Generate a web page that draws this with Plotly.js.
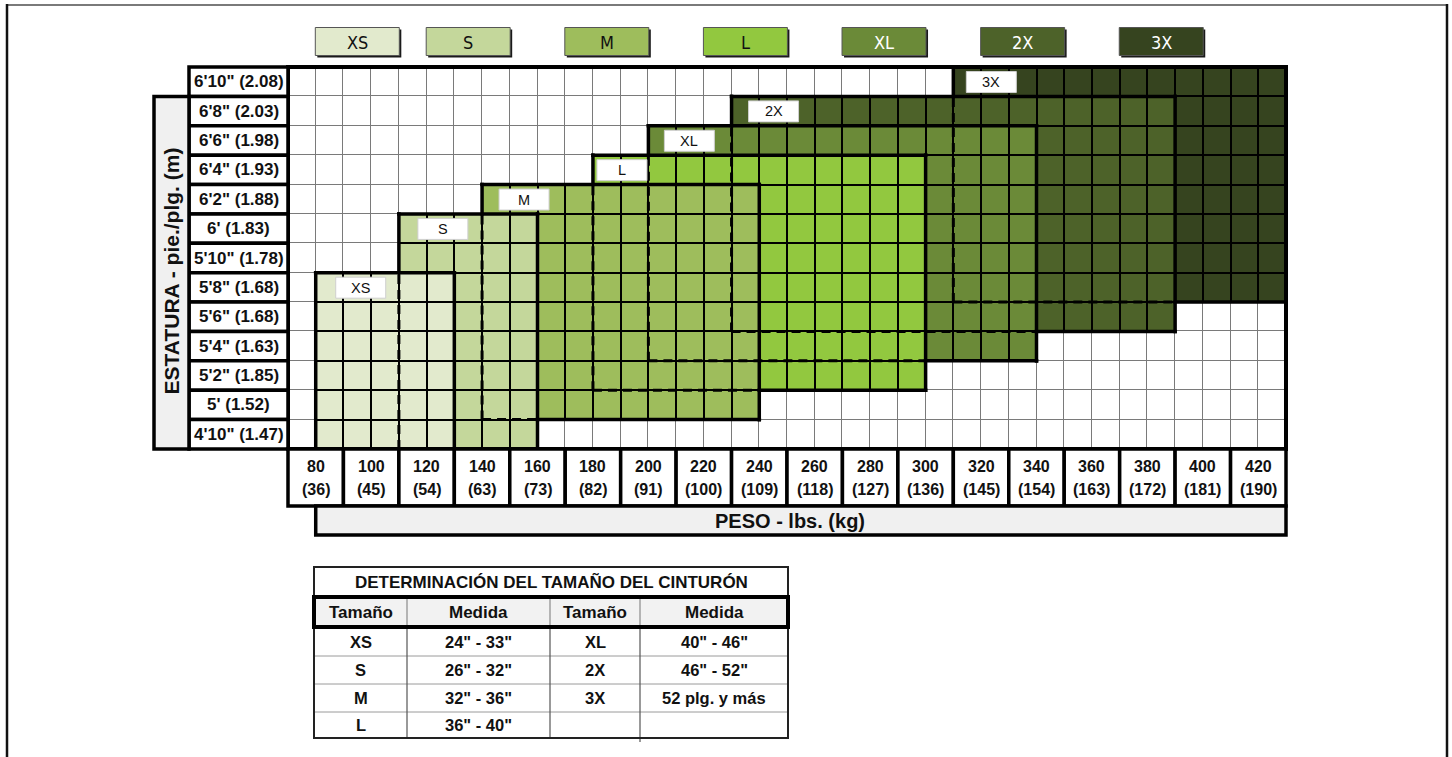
<!DOCTYPE html>
<html><head><meta charset="utf-8">
<script src="https://cdn.plot.ly/plotly-3.0.1.min.js"></script>
<style>html,body{margin:0;padding:0;background:#fff;}#chart{width:1452px;height:757px;}</style>
</head><body><div id="chart"></div>
<script>
// ================= DATA =================
const sizeNames   = ['XS', 'S', 'M', 'L', 'XL', '2X', '3X'];
const sizeMinLbs  = [80, 110, 140, 180, 200, 230, 310];
const sizeMaxLbs  = [130, 160, 240, 300, 340, 390, 430];
const sizeMinIn   = [58, 58, 60, 62, 64, 66, 68];   // lowest height row (inches)
const sizeMaxIn   = [68, 72, 74, 76, 78, 80, 82];   // highest height row (inches)
const heightInches = [82, 80, 78, 76, 74, 72, 70, 68, 66, 64, 62, 60, 58];
const heightLabels = ['6\'10" (2.08)', '6\'8" (2.03)', '6\'6" (1.98)', '6\'4" (1.93)', '6\'2" (1.88)',
  '6\' (1.83)', '5\'10" (1.78)', '5\'8" (1.68)', '5\'6" (1.68)', '5\'4" (1.63)', '5\'2" (1.85)',
  '5\' (1.52)', '4\'10" (1.47)'];
const weightLbs = [80, 100, 120, 140, 160, 180, 200, 220, 240, 260, 280, 300, 320, 340, 360, 380, 400, 420];
const weightKg  = [36, 45, 54, 63, 73, 82, 91, 100, 109, 118, 127, 136, 145, 154, 163, 172, 181, 190];
const heightAxisTitle = 'ESTATURA - pie./plg. (m)';
const weightAxisTitle = 'PESO - lbs. (kg)';
const beltTitle = 'DETERMINACIÓN DEL TAMAÑO DEL CINTURÓN';
const beltHeader = ['Tamaño', 'Medida', 'Tamaño', 'Medida'];
const beltSizesA = ['XS', 'S', 'M', 'L'];
const beltMeasuresA = ['24" - 33"', '26" - 32"', '32" - 36"', '36" - 40"'];
const beltSizesB = ['XL', '2X', '3X', ''];
const beltMeasuresB = ['40" - 46"', '46" - 52"', '52 plg. y más', ''];

// ================= STYLE / LAYOUT =================
const sizeColors = ['#e2eacd', '#c4d79b', '#9ebd5c', '#92c83f', '#6b8a38', '#4d6229', '#36441f'];
const sizeTextColors = ['#111', '#111', '#111', '#111', '#fff', '#fff', '#fff'];
const legendCenterLbs = [95, 135, 185, 235, 285, 335, 385];
const labelDx = [20, 19, 17, 4, 16, 17, 13];
const FONT = 'Liberation Sans, Arial, sans-serif';
const NARROW = 'Liberation Sans Narrow, DejaVu Sans Condensed, Arial Narrow, sans-serif';
const W = 1452, H = 757;
const PX_PER_LB = 998 / 360, PX_PER_IN = 382 / 26;
const lb = px => 70 + (px - 288) / PX_PER_LB;
const inch = py => 83 - (py - 67) / PX_PER_IN;
const pxX = v => 288 + (v - 70) * PX_PER_LB;
const pxY = v => 67 + (83 - v) * PX_PER_IN;

const shapes = [], annotations = [];
function pxRect(x0, y0, x1, y1, line, fill) {
  shapes.push({type: 'rect', xref: 'x', yref: 'y', x0: lb(x0), x1: lb(x1), y0: inch(y0), y1: inch(y1),
    line: line || {width: 0}, fillcolor: fill || 'rgba(0,0,0,0)', layer: 'above'});
}
function pxLine(x0, y0, x1, y1, line) {
  shapes.push({type: 'line', xref: 'x', yref: 'y', x0: lb(x0), x1: lb(x1), y0: inch(y0), y1: inch(y1), line: line});
}
function text(xv, yv, t, size, color, bold, extra) {
  annotations.push(Object.assign({xref: 'x', yref: 'y', x: xv, y: yv, text: t, showarrow: false,
    xanchor: 'center', yanchor: 'middle',
    font: {family: FONT, size: size, color: color || '#111', weight: bold ? 700 : 400}}, extra || {}));
}

// ================= GRID CELLS (heatmaps) =================
const cellX = [], cellY = heightInches.slice();
for (let v = 75; v <= 425; v += 10) cellX.push(v);
function sizeAt(cx, cy) {
  for (let k = 0; k < sizeNames.length; k++) {
    if (cx - 5 >= sizeMinLbs[k] && cx + 5 <= sizeMaxLbs[k] && cy >= sizeMinIn[k] && cy <= sizeMaxIn[k]) return k;
  }
  return null;
}
const zBase = [], zWhite = [], zColor = [];
cellY.forEach(cy => {
  const a = [], b = [], c = [];
  cellX.forEach(cx => {
    const k = sizeAt(cx, cy);
    a.push(k === null ? 0 : 1);
    b.push(k === null ? 0 : null);
    c.push(k);
  });
  zBase.push(a); zWhite.push(b); zColor.push(c);
});
const n = sizeColors.length, discrete = [];
sizeColors.forEach((c, i) => { discrete.push([i / n, c]); discrete.push([(i + 1) / n, c]); });

const traces = [
  {type: 'heatmap', x: cellX, y: cellY, z: zBase, colorscale: [[0, '#7a7a7a'], [1, '#000']], zmin: 0, zmax: 1,
   showscale: false, hoverinfo: 'skip'},
  {type: 'heatmap', x: cellX, y: cellY, z: zWhite, colorscale: [[0, '#fff'], [1, '#fff']], zmin: 0, zmax: 1,
   xgap: 1, ygap: 1, showscale: false, hoverinfo: 'skip'},
  {type: 'heatmap', x: cellX, y: cellY, z: zColor, colorscale: discrete, zmin: -0.5, zmax: n - 0.5,
   xgap: 2, ygap: 2, showscale: false, hoverinfo: 'skip'}
];

// ================= REGION OUTLINES =================
const dashed = [], solid = [];
sizeNames.forEach((name, k) => {
  const L = sizeMinLbs[k], R = sizeMaxLbs[k], B = sizeMinIn[k] - 1, T = sizeMaxIn[k] + 1;
  const hidden = (mx, my) => {
    for (let j = 0; j < k; j++) {
      if (mx > sizeMinLbs[j] && mx < sizeMaxLbs[j] && my > sizeMinIn[j] - 1 && my < sizeMaxIn[j] + 1) return true;
    }
    return false;
  };
  function walk(x0, y0, dx, dy, steps) {
    let cur = null;
    for (let i = 0; i < steps; i++) {
      const ax = x0 + dx * i, ay = y0 + dy * i, bx = ax + dx, by = ay + dy;
      const h = hidden((ax + bx) / 2, (ay + by) / 2);
      if (cur && cur.h === h) { cur.x1 = bx; cur.y1 = by; }
      else { cur = {h, x0: ax, y0: ay, x1: bx, y1: by, horiz: dy === 0}; (h ? dashed : solid).push(cur); }
    }
  }
  walk(L, T, 10, 0, (R - L) / 10);
  walk(L, B, 10, 0, (R - L) / 10);
  walk(L, B, 0, 2, (T - B) / 2);
  walk(R, B, 0, 2, (T - B) / 2);
});
dashed.forEach(s => shapes.push({type: 'line', xref: 'x', yref: 'y', x0: s.x0, x1: s.x1, y0: s.y0, y1: s.y1,
  line: {color: '#000', width: 3, dash: '9px,6px'}}));
solid.forEach(s => {
  const ex = s.horiz ? 1.8 / PX_PER_LB : 0, ey = s.horiz ? 0 : 1.8 / PX_PER_IN;
  shapes.push({type: 'line', xref: 'x', yref: 'y', x0: s.x0 - ex, x1: s.x1 + ex, y0: s.y0 - ey, y1: s.y1 + ey,
    line: {color: '#000', width: 3.5}});
});
// grid outer border
shapes.push({type: 'rect', xref: 'x', yref: 'y', x0: 70, x1: 430, y0: 57, y1: 83, line: {color: '#000', width: 4}});

// size label boxes inside regions
sizeNames.forEach((name, k) => {
  const lx = pxX(sizeMinLbs[k]) + labelDx[k], ty = pxY(sizeMaxIn[k] + 1) + 4.5;
  pxRect(lx, ty, lx + 50, ty + 21, {color: '#cfcfcf', width: 1}, '#fff');
  text(lb(lx + 25), inch(ty + 10.5), name, 14.5, '#111', false);
});

// ================= HEIGHT LABEL COLUMN =================
heightInches.forEach((h, i) => {
  shapes.push({type: 'rect', xref: 'x', yref: 'y', x0: lb(189), x1: 70, y0: h - 1, y1: h + 1,
    line: {color: '#000', width: 3.5}, fillcolor: '#fff'});
  text(lb(238.5), h, heightLabels[i], 17, '#111', true);
});
shapes.push({type: 'rect', xref: 'x', yref: 'y', x0: lb(154), x1: lb(189), y0: 57, y1: 81,
  line: {color: '#000', width: 3.5}, fillcolor: '#f0f0f0'});
text(lb(170.5), inch(271), heightAxisTitle, 21, '#111', true, {textangle: -90});

// ================= WEIGHT LABEL ROW =================
weightLbs.forEach((w, i) => {
  shapes.push({type: 'rect', xref: 'x', yref: 'y', x0: w - 10, x1: w + 10, y0: inch(506), y1: 57,
    line: {color: '#000', width: 3.5}, fillcolor: '#fff'});
  text(w, inch(466.5), String(w), 16, '#111', true);
  text(w, inch(489.5), '(' + weightKg[i] + ')', 16, '#111', true);
});
shapes.push({type: 'rect', xref: 'x', yref: 'y', x0: 80, x1: 430, y0: inch(535), y1: inch(506),
  line: {color: '#000', width: 3.5}, fillcolor: '#f0f0f0'});
text(lb(790), inch(521), weightAxisTitle, 20, '#111', true);

// ================= LEGEND =================
sizeNames.forEach((name, k) => {
  const cx = pxX(legendCenterLbs[k]);
  pxRect(cx - 40, 29.5, cx + 44, 57.5, {width: 0}, '#1a1a1a');
  pxRect(cx - 42, 27.5, cx + 42, 55.5, {color: '#555', width: 1}, sizeColors[k]);
  annotations.push({xref: 'x', yref: 'y', x: legendCenterLbs[k], y: inch(42), text: name, showarrow: false,
    xanchor: 'center', yanchor: 'middle', font: {family: NARROW, size: 18, color: sizeTextColors[k]}});
});

// ================= BELT TABLE =================
const colEdges = [314, 407, 550, 640, 788];
const rowEdges = [627, 656, 684, 712, 738];
const beltCols = [beltSizesA, beltMeasuresA, beltSizesB, beltMeasuresB];
for (let r = 0; r < 4; r++) {
  pxLine(314, rowEdges[r + 1], 788, rowEdges[r + 1], {color: '#9a9a9a', width: 1});
  for (let c = 0; c < 4; c++) {
    const v = beltCols[c][r];
    if (v) text(lb((colEdges[c] + colEdges[c + 1]) / 2), inch((rowEdges[r] + rowEdges[r + 1]) / 2), v, 16.5, '#111', true);
  }
}
[407, 550, 640].forEach(x => pxLine(x, 627, x, 738, {color: '#555', width: 1.2}));
pxLine(640, 738, 640, 742, {color: '#555', width: 1.2});
pxRect(314, 567, 788, 738, {color: '#222', width: 2});
pxRect(314, 597, 788, 627, {width: 0}, '#f2f2f2');
[407, 550, 640].forEach(x => pxLine(x, 597, x, 627, {color: '#777', width: 1}));
beltHeader.forEach((t, c) => text(lb((colEdges[c] + colEdges[c + 1]) / 2), inch(612), t, 17, '#111', true));
pxRect(314, 597, 788, 627, {color: '#000', width: 4});
text(lb(551), inch(582), beltTitle, 17, '#111', true);

// ================= OUTER FRAME =================
pxLine(7, 5, 1447, 5, {color: '#7a7a7a', width: 2});
pxLine(7, 4, 7, 757, {color: '#111', width: 2.5});
pxLine(1447, 4, 1447, 757, {color: '#111', width: 2.5});

const layout = {
  width: W, height: H, autosize: false,
  margin: {l: 0, r: 0, t: 0, b: 0, pad: 0},
  paper_bgcolor: '#fff', plot_bgcolor: '#fff',
  xaxis: {range: [lb(0), lb(W)], visible: false, fixedrange: true},
  yaxis: {range: [inch(H), inch(0)], visible: false, fixedrange: true},
  showlegend: false,
  shapes: shapes,
  annotations: annotations
};
Plotly.newPlot('chart', traces, layout, {staticPlot: true, displayModeBar: false});
</script>
</body></html>
